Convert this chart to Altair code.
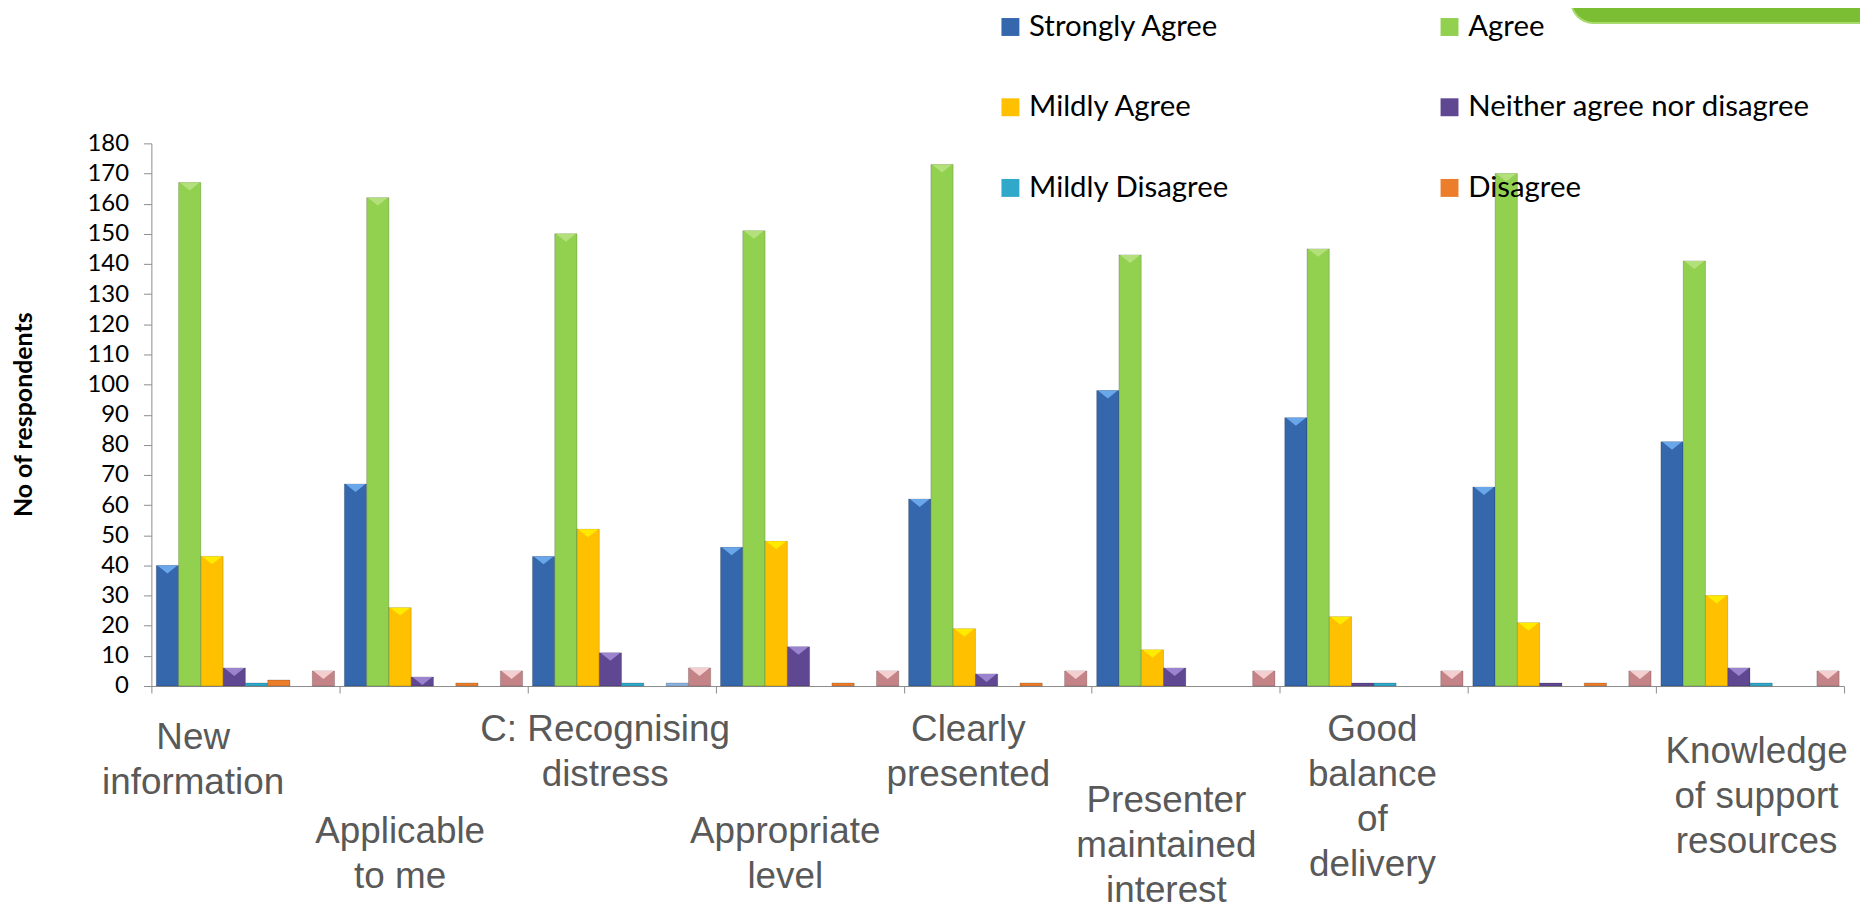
import json
import altair as alt
import pandas as pd

# ---------------- data ----------------
categories = [
    "New\ninformation",
    "Applicable\nto me",
    "C: Recognising\ndistress",
    "Appropriate\nlevel",
    "Clearly\npresented",
    "Presenter\nmaintained\ninterest",
    "Good\nbalance\nof\ndelivery",
    "",
    "Knowledge\nof support\nresources",
]
series = [
    "Strongly Agree",
    "Agree",
    "Mildly Agree",
    "Neither agree nor disagree",
    "Mildly Disagree",
    "Disagree",
    "Strongly Disagree",
    "No response",
]
legend_series = series[:6]

strongly_agree = [40, 67, 43, 46, 62, 98, 89, 66, 81]
agree = [167, 162, 150, 151, 173, 143, 145, 170, 141]
mildly_agree = [43, 26, 52, 48, 19, 12, 23, 21, 30]
neither = [6, 3, 11, 13, 4, 6, 1, 1, 6]
mildly_disagree = [1, 0, 1, 0, 0, 0, 1, 0, 1]
disagree = [2, 1, 0, 1, 1, 0, 0, 1, 0]
strongly_disagree = [0, 0, 1, 0, 0, 0, 0, 0, 0]
no_response = [5, 5, 6, 5, 5, 5, 5, 5, 5]

y_ticks = list(range(0, 181, 10))

values_by_series = [strongly_agree, agree, mildly_agree, neither,
                    mildly_disagree, disagree, strongly_disagree, no_response]

rows = []
for s, vals in zip(series, values_by_series):
    for i, v in enumerate(vals):
        rows.append({"idx": i, "series": s, "value": v})
df = pd.DataFrame(rows)

# ---------------- styling ----------------
base_colors = ["#3467AC", "#92D050", "#FFC000", "#5F4791",
               "#2FA8C9", "#EC7D2A", "#8DB3E2", "#C48386"]
light_colors = ["#6AA6EA", "#B4E07C", "#FFEA00", "#9C83CF",
                "#7AD7F0", "#FAB37A", "#C6D9F1", "#F5CFD0"]

label_lines = [c.split("\n") for c in categories]
label_dx = [-53, -34, -17, -25, -30, -20, -2, 0, 6]
label_dy = [27, 121, 19, 121, 19, 90, 19, 121, 41]


def per_label(vals, default):
    return {
        "condition": [{"test": f"datum.value == {i}", "value": v} for i, v in enumerate(vals)],
        "value": default,
    }


axis_gray = "#8C8C8C"

x_axis = alt.Axis(
    title=None,
    labelExpr=f"{json.dumps(label_lines)}[datum.value]",
    labelAngle=0,
    labelAlign="center",
    labelBaseline="top",
    labelFont="Liberation Sans",
    labelFontSize=37,
    labelColor="#595959",
    labelLineHeight=45,
    labelPadding=per_label(label_dy, 19),
    labelOffset=per_label(label_dx, 0),
    labelOverlap=False,
    labelBound=False,
    labelFlush=False,
    labelLimit=600,
    tickBand="extent",
    tickSize=7,
    tickColor=axis_gray,
    domainColor=axis_gray,
    grid=False,
)

y_axis = alt.Axis(
    values=y_ticks,
    title="No of respondents",
    titleFont="Lato",
    titleFontSize=25,
    titleFontWeight="bold",
    titleColor="black",
    titleX=-128,
    titleY=272,
    titleBaseline="middle",
    titleAlign="center",
    labelFont="Lato",
    labelFontSize=24,
    labelColor="black",
    labelPadding=15,
    tickSize=8,
    tickColor=axis_gray,
    domainColor=axis_gray,
    grid=False,
)

x_enc = alt.X("idx:O", scale=alt.Scale(paddingInner=0, paddingOuter=0), axis=x_axis)
xo_enc = alt.XOffset("series:N", sort=series,
                     scale=alt.Scale(domain=series, paddingInner=0, paddingOuter=0.22))
y_enc = alt.Y("value:Q", scale=alt.Scale(domain=[0, 180], nice=False), axis=y_axis)

legend = alt.Legend(
    orient="none",
    legendX=848,
    legendY=-132,
    direction="horizontal",
    columns=2,
    values=legend_series,
    title=None,
    symbolType="square",
    symbolSize=324,
    symbolStrokeWidth=0,
    labelFont="Lato",
    labelFontSize=29.5,
    labelColor="black",
    labelLimit=600,
    labelOffset=4,
    rowPadding=50,
    columnPadding=206,
)

base = alt.Chart(df)

bars = base.mark_bar(stroke="#000000", strokeWidth=0.6, strokeOpacity=0.3).encode(
    x=x_enc,
    xOffset=xo_enc,
    y=y_enc,
    color=alt.Color("series:N", scale=alt.Scale(domain=series, range=base_colors), legend=legend),
).transform_filter("datum.value > 0")

tops = base.mark_point(shape="M-1,0L1,0L0,0.8Z", filled=True, size=400, opacity=1, strokeWidth=0).encode(
    x=x_enc,
    xOffset=xo_enc,
    y=y_enc,
    fill=alt.Fill("series:N", scale=alt.Scale(domain=series, range=light_colors), legend=None),
).transform_filter("datum.value >= 3")

banner = alt.Chart(alt.Data(values=[{}])).mark_rect(
    color="#7BBD33", cornerRadius=22, stroke="#A9DA6E", strokeWidth=2
).encode(
    x=alt.value(1426), x2=alt.value(1960), y=alt.value(-260), y2=alt.value(-121)
)

chart = alt.layer(banner, bars, tops).properties(
    width=1700,
    height=545,
    background="white",
    view=alt.ViewBackground(stroke="transparent", strokeWidth=0),
    autosize=alt.AutoSizeParams(type="none"),
    padding={"left": 144, "top": 134, "right": 16, "bottom": 225},
).configure_view(stroke="transparent", strokeWidth=0)

chart.save("out.html", embed_options={"renderer": "svg", "actions": False})
